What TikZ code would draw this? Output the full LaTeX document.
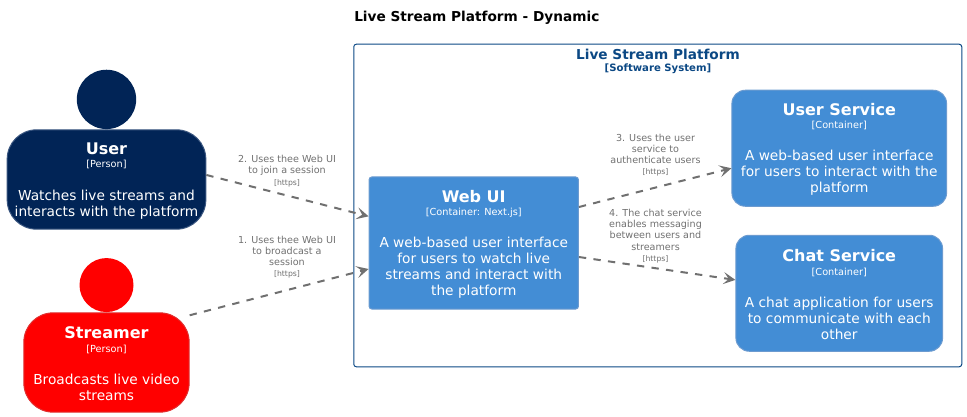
\documentclass[tikz,border=0pt]{standalone}
\usepackage{fontspec}
\setmainfont{DejaVu Sans}
\usepackage{xcolor}
\usetikzlibrary{arrows.meta, positioning}

\definecolor{navy}{HTML}{012456}
\definecolor{navyline}{HTML}{3A5680}
\definecolor{redline}{HTML}{E03030}
\definecolor{container}{HTML}{438DD5}
\definecolor{containerline}{HTML}{6C9BD0}
\definecolor{boundary}{HTML}{0B4884}
\definecolor{relgray}{HTML}{707070}

\newcommand{\descfs}{\fontsize{10.3}{12}\selectfont}
\newcommand{\httpsfs}{\fontsize{5.8}{7.2}\selectfont}
% title and tag lines of a box, the rule pushes the text down a little
\newcommand{\boxhead}[2]{\rule{0pt}{11pt}{\fontsize{12}{14}\bfseries #1}\\[-2pt]{\fontsize{7.3}{8}\selectfont #2}\\[12.2pt]}

\begin{document}
\begin{tikzpicture}[
  x=0.75pt, y=-0.75pt,
  every node/.style={align=center, inner sep=0pt, text=white},
  box/.style={draw=containerline, fill=container, line width=0.75pt, rounded corners=2pt},
  svcbox/.style={box, rounded corners=10pt},
  personbox/.style={line width=0.75pt, rounded corners=22pt},
  head/.style={circle, above=0pt of #1},
  rel/.style={draw=relgray, line width=1.5pt, dash pattern=on 5.5pt off 5.5pt,
    -{Stealth[length=9pt, width=9pt, inset=4pt]}},
  rellabel/.style={text=relgray, font=\fontsize{7.2}{8.4}\selectfont}
]
\useasboundingbox (0,0) rectangle (967,417);

\node (title) [anchor=west, text=black, font=\fontsize{10.25}{12}\bfseries\selectfont] at (354,18) {Live Stream Platform - Dynamic};

% boundary
\node (platform) [draw=boundary, line width=0.75pt, rounded corners=2pt, minimum width=456pt, minimum height=242pt] at (657.75,205.5) {};
\node (platformname) [text=boundary, font=\fontsize{10.25}{12}\bfseries\selectfont] at (658,54) {Live Stream Platform};
\node (platformtag) [text=boundary, font=\fontsize{7.6}{9}\bfseries\selectfont] at (658,68.5) {[Software System]};

% people
\node (user) [personbox, draw=navyline, fill=navy, minimum width=149pt, minimum height=74.5pt] at (106.5,179.5) {
  \boxhead{User}{[Person]}
  {\descfs Watches live streams and}\\{\descfs interacts with the platform}};
\node (userhead) [head=user, fill=navy, minimum size=44.5pt] {};

\node (streamer) [personbox, draw=redline, fill=red, minimum width=124pt, minimum height=74.5pt] at (106.5,362.5) {
  \boxhead{Streamer}{[Person]}
  {\descfs Broadcasts live video}\\{\descfs streams}};
\node (streamerhead) [head=streamer, fill=red, minimum size=40.5pt] {};

% containers
\node (webui) [box, minimum width=157pt, minimum height=99pt] at (473.75,243) {
  \boxhead{Web UI}{[Container: Next.js]}
  {\descfs A web-based user interface}\\{\descfs for users to watch live}\\{\descfs streams and interact with}\\{\descfs the platform}};
\node (usersvc) [svcbox, minimum width=161pt, minimum height=87pt] at (839.25,148.25) {
  \boxhead{User Service}{[Container]}
  {\descfs A web-based user interface}\\{\descfs for users to interact with the}\\{\descfs platform}};
\node (chatsvc) [svcbox, minimum width=155pt, minimum height=87pt] at (839.25,293.25) {
  \boxhead{Chat Service}{[Container]}
  {\descfs A chat application for users}\\{\descfs to communicate with each}\\{\descfs other}};

% relations
\draw[rel] ([yshift=3.4pt]user.east) -- ([yshift=20pt]webui.west);
\draw[rel] ([yshift=-2.2pt]streamer.north east) -- ([yshift=-19.5pt]webui.west);
\draw[rel] ([yshift=27pt]webui.east) -- ([yshift=-15pt]usersvc.west);
\draw[rel] ([yshift=-10.5pt]webui.east) -- ([yshift=10pt]chatsvc.west);

\node (rela) [rellabel] at (287,171) {2. Uses thee Web UI\\to join a session\\{\httpsfs [https]}};
\node (relb) [rellabel] at (287,257) {1. Uses thee Web UI\\to broadcast a\\session\\{\httpsfs [https]}};
\node (relc) [rellabel] at (655.5,155) {3. Uses the user\\service to\\authenticate users\\{\httpsfs [https]}};
\node (reld) [rellabel] at (655.5,236) {4. The chat service\\enables messaging\\between users and\\streamers\\{\httpsfs [https]}};
\end{tikzpicture}
\end{document}
